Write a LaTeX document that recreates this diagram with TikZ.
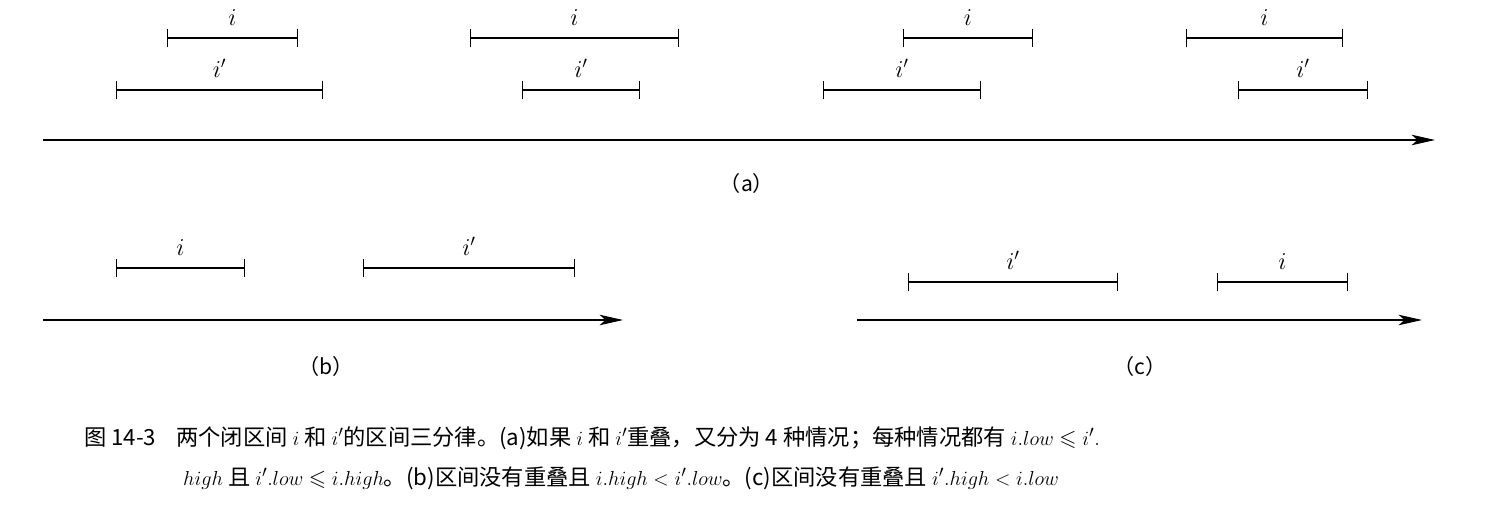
\documentclass[tikz,border=0pt]{standalone}
\usepackage{amssymb}
\usepackage{fontspec}
\newfontfamily\cjk{Noto Sans CJK SC}
\usetikzlibrary{arrows.meta}

\tikzset{
  span/.style={{Bar[width=16pt]}-{Bar[width=16pt]}, line width=0.9pt},
  axis/.style={-{Stealth[length=20pt,width=9pt,inset=5pt]}, line width=0.9pt},
  lbl/.style={font=\fontsize{20}{22}\selectfont, inner sep=0pt},
  sub/.style={font=\cjk\fontsize{18}{22}\selectfont, inner sep=0pt},
  captext/.style={font=\cjk\fontsize{19}{24}\selectfont, inner sep=0pt, anchor=west}
}

% one interval: name, left x, right x, y, label
\newcommand{\ival}[5]{%
  \coordinate (#1l) at (#2,#4);
  \coordinate (#1r) at (#3,#4);
  \draw[span] (#1l) -- (#1r) node[lbl, midway, above=10pt] {$#5$};
}

\begin{document}
\begin{tikzpicture}[x=0.03cm, y=-0.03cm]
  \useasboundingbox (0,0) rectangle (1509,510);

  % Part (a): four overlapping cases
  \ival{a1}{167}{298}{38}{i}
  \ival{a2}{116}{323}{90}{i'}
  \ival{b1}{470}{679}{38}{i}
  \ival{b2}{522}{640}{90}{i'}
  \ival{c1}{903}{1033}{38}{i}
  \ival{c2}{823}{981}{90}{i'}
  \ival{d1}{1186}{1343}{38}{i}
  \ival{d2}{1238}{1368}{90}{i'}
  \coordinate (axAs) at (43,140);
  \coordinate (axAe) at (1435,140);
  \draw[axis] (axAs) -- (axAe);
  \node[sub] (labA) at (747,183) {（a）};

  % Part (b): i left of i'
  \ival{e1}{116}{245}{268}{i}
  \ival{e2}{363}{575}{268}{i'}
  \coordinate (axBs) at (43,320);
  \coordinate (axBe) at (623,320);
  \draw[axis] (axBs) -- (axBe);
  \node[sub] (labB) at (326,366) {（b）};

  % Part (c): i' left of i
  \ival{f1}{908}{1118}{282}{i'}
  \ival{f2}{1217}{1348}{282}{i}
  \coordinate (axCs) at (857,320);
  \coordinate (axCe) at (1422,320);
  \draw[axis] (axCs) -- (axCe);
  \node[sub] (labC) at (1140,366) {（c）};

  % Caption
  \node[captext] (cap1) at (84,438) {图 14-3\hspace{0.9em}两个闭区间 $i$ 和 $i'$的区间三分律。(a)如果 $i$ 和 $i'$重叠，又分为 4 种情况；每种情况都有 $i.low\leqslant i'.$};
  \node[captext] (cap2) at (183,478) {$high$ 且 $i'.low\leqslant i.high$。(b)区间没有重叠且 $i.high<i'.low$。(c)区间没有重叠且 $i'.high<i.low$};

\end{tikzpicture}
\end{document}
